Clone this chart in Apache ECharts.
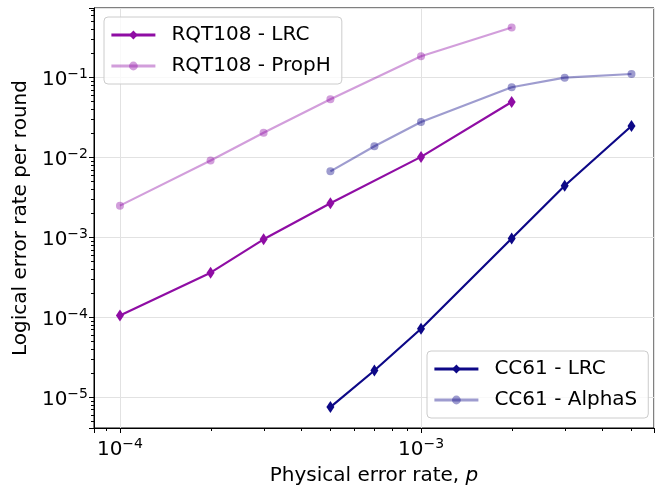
<!DOCTYPE html>
<html>
<head>
<meta charset="utf-8">
<script src="https://cdn.jsdelivr.net/npm/echarts@6/dist/echarts.min.js"></script>
<style>
  html, body { margin: 0; padding: 0; background: #fff; }
  #chart { width: 655px; height: 487px; }
</style>
</head>
<body>
<div id="chart"></div>
<script>
// physical error rates
const rqtP = [1e-4, 2e-4, 3e-4, 5e-4, 1e-3, 2e-3]
const ccP = [5e-4, 7e-4, 1e-3, 2e-3, 3e-3, 5e-3]
// logical error rate per round
const rqtLrc = [1.05e-4, 3.6e-4, 9.4e-4, 2.65e-3, 1.01e-2, 4.9e-2]
const rqtPropH = [2.48e-3, 9.1e-3, 2.03e-2, 5.3e-2, 1.83e-1, 4.2e-1]
const ccLrc = [7.5e-6, 2.15e-5, 7.15e-5, 9.6e-4, 4.4e-3, 2.46e-2]
const ccAlphaS = [6.66e-3, 1.37e-2, 2.76e-2, 7.5e-2, 9.9e-2, 1.1e-1]
// axis ranges + minor tick spots
const xRange = [8.2e-5, 5.94e-3]
const yRange = [4.1e-6, 0.736]
const minorSubs = [2, 3, 4, 5, 6, 7, 8, 9]
const xDecades = [1e-5, 1e-4, 1e-3]
const yDecades = [1e-6, 1e-5, 1e-4, 1e-3, 1e-2, 1e-1]

const FONT = 'DejaVu Sans'
const purple = '#8f0da4'
const navy = '#0d0887'

const isDecade = (v) => {
  if (v <= 0) return Math.abs(v - Math.round(v)) < 1e-6
  const l = Math.log10(v)
  return Math.abs(l - Math.round(l)) < 1e-6
}
const decLabel = (v) => {
  const l = Math.log10(v)
  const r = Math.round(l)
  if (Math.abs(l - r) > 1e-6) return ''
  return '{b|10}{s|' + (r < 0 ? '\u2212' : '') + Math.abs(r) + '}'
}
const labelRich = {
  b: { fontSize: 20, fontFamily: FONT, color: '#000', padding: [5, 0, 0, 0] },
  s: { fontSize: 14, fontFamily: FONT, color: '#000', padding: [0, 0, 6, 0] }
}

const pairs = (xs, ys) => xs.map((x, i) => [x, ys[i]])

const chart = echarts.init(document.getElementById('chart'))

const legendBase = {
  orient: 'vertical',
  itemWidth: 44,
  itemHeight: 11,
  itemGap: 11,
  padding: [8, 11, 8, 6],
  backgroundColor: 'rgba(255,255,255,0.8)',
  borderColor: '#cccccc',
  borderWidth: 1,
  borderRadius: 4,
  lineStyle: { width: 2.8 },
  textStyle: { fontSize: 20, fontFamily: FONT, color: '#000', lineHeight: 20, padding: [0, 0, 0, 11] }
}

const option = {
  animation: false,
  backgroundColor: '#fff',
  grid: {
    left: 94, right: 1, top: 8, bottom: 59,
    containLabel: false,
    outerBoundsMode: 'none',
    show: true, borderColor: '#000', borderWidth: 1
  },
  legend: [
    Object.assign({}, legendBase, { left: 104, top: 17, data: ['RQT108 - LRC', 'RQT108 - PropH'] }),
    Object.assign({}, legendBase, { left: 427, top: 351, data: ['CC61 - LRC', 'CC61 - AlphaS'] })
  ],
  xAxis: {
    type: 'log',
    logBase: 10,
    min: xRange[0],
    max: xRange[1],
    name: '{n|Physical error rate, }{i|p}',
    nameLocation: 'middle',
    nameGap: 38,
    nameTextStyle: {
      rich: {
        n: { fontSize: 20, fontFamily: FONT, color: '#000' },
        i: { fontSize: 20, fontFamily: FONT, fontStyle: 'italic', color: '#000' }
      }
    },
    axisLine: { show: true, lineStyle: { color: '#000', width: 1 } },
    axisTick: { show: true, length: 5, interval: (i, v) => isDecade(v), lineStyle: { color: '#000' } },
    axisLabel: { margin: 7, formatter: decLabel, rich: labelRich },
    splitLine: { show: true, interval: (i, v) => isDecade(v), lineStyle: { color: '#e2e2e2', width: 1 } },
    minorTick: { show: false }
  },
  yAxis: {
    type: 'log',
    logBase: 10,
    min: yRange[0],
    max: yRange[1],
    name: 'Logical error rate per round',
    nameLocation: 'middle',
    nameGap: 60,
    nameTextStyle: { fontSize: 20, fontFamily: FONT, color: '#000' },
    axisLine: { show: true, lineStyle: { color: '#000', width: 1 } },
    axisTick: { show: true, length: 5, interval: (i, v) => isDecade(v), lineStyle: { color: '#000' } },
    axisLabel: { margin: 6, formatter: decLabel, rich: labelRich },
    splitLine: { show: true, interval: (i, v) => isDecade(v), lineStyle: { color: '#e2e2e2', width: 1 } }
  },
  series: [
    {
      name: 'RQT108 - LRC', type: 'line', data: pairs(rqtP, rqtLrc),
      symbol: 'diamond', symbolSize: [8, 12],
      lineStyle: { color: purple, width: 2.2 },
      itemStyle: { color: purple }
    },
    {
      name: 'RQT108 - PropH', type: 'line', data: pairs(rqtP, rqtPropH),
      symbol: 'circle', symbolSize: 8,
      lineStyle: { color: purple, width: 2.2, opacity: 0.4 },
      itemStyle: { color: purple, opacity: 0.4 }
    },
    {
      name: 'CC61 - LRC', type: 'line', data: pairs(ccP, ccLrc),
      symbol: 'diamond', symbolSize: [8, 12],
      lineStyle: { color: navy, width: 2.2 },
      itemStyle: { color: navy }
    },
    {
      name: 'CC61 - AlphaS', type: 'line', data: pairs(ccP, ccAlphaS),
      symbol: 'circle', symbolSize: 8,
      lineStyle: { color: navy, width: 2.2, opacity: 0.4 },
      itemStyle: { color: navy, opacity: 0.4 }
    }
  ]
}

chart.setOption(option)

// minor ticks (2..9 of every decade), like matplotlib's log locator
const ticks = []
const x0 = chart.convertToPixel({ xAxisIndex: 0 }, xRange[0])
const yb = chart.convertToPixel({ yAxisIndex: 0 }, yRange[0])
xDecades.forEach((d) => {
  minorSubs.forEach((m) => {
    const v = d * m
    if (v <= xRange[0] || v >= xRange[1]) return
    const px = Math.round(chart.convertToPixel({ xAxisIndex: 0 }, v)) + 0.5
    ticks.push({ type: 'line', silent: true, shape: { x1: px, y1: yb, x2: px, y2: yb + 3 }, style: { stroke: '#000', lineWidth: 1 } })
  })
})
yDecades.forEach((d) => {
  minorSubs.forEach((m) => {
    const v = d * m
    if (v <= yRange[0] || v >= yRange[1]) return
    const py = Math.round(chart.convertToPixel({ yAxisIndex: 0 }, v)) + 0.5
    ticks.push({ type: 'line', silent: true, shape: { x1: x0 - 3, y1: py, x2: x0, y2: py }, style: { stroke: '#000', lineWidth: 1 } })
  })
})
chart.setOption({ graphic: ticks })
</script>
</body>
</html>
